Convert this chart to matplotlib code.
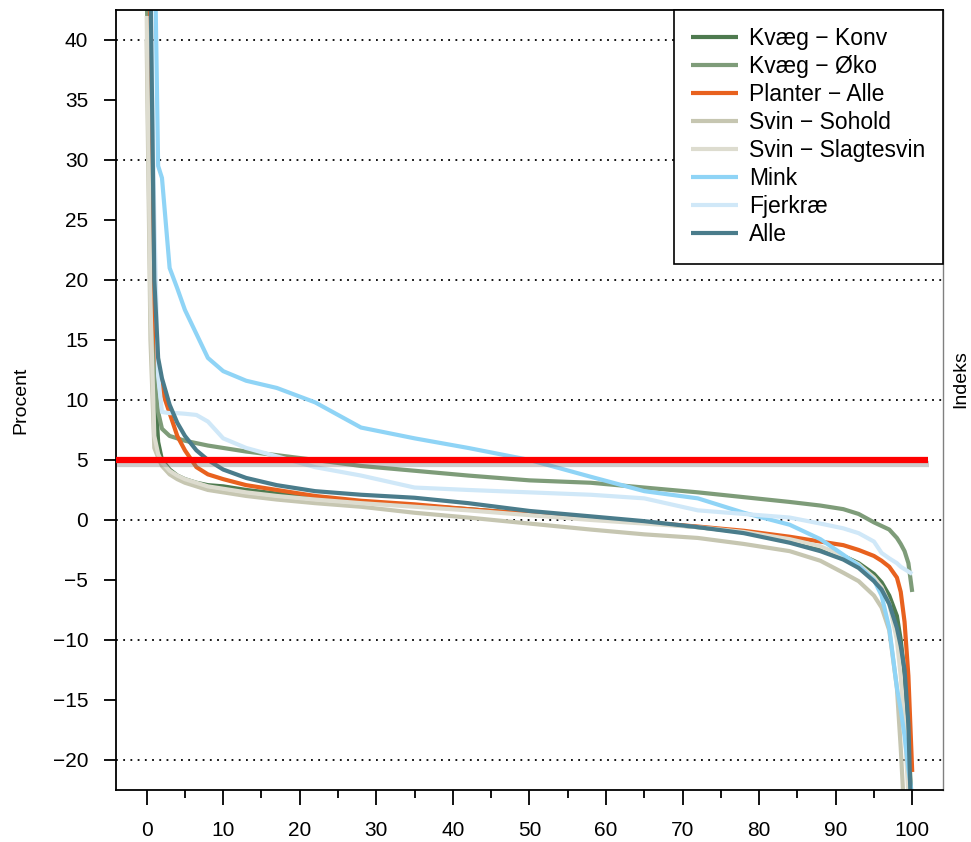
import matplotlib
matplotlib.use("Agg")
import matplotlib.pyplot as plt
import matplotlib.patheffects as pe
import numpy as np

plt.rcParams["font.family"] = ["Liberation Sans", "DejaVu Sans"]

# Percentile (x) and value (y, procent) for each group
pct = [0, 0.5, 1, 1.5, 2, 3, 4, 5, 6.5, 8, 10, 13, 17, 22, 28, 35, 42, 50,
       58, 65, 72, 78, 84, 88, 91, 93, 95, 96, 97, 98, 98.5, 99, 99.5, 100]

kvaeg_konv = [55, 30, 12, 6.5, 5.0, 4.2, 3.7, 3.4, 3.1, 2.9, 2.8, 2.5, 2.2, 1.8,
              1.5, 1.2, 0.9, 0.5, 0.1, -0.2, -0.6, -1.0, -1.7, -2.3, -3.0, -3.6,
              -4.5, -5.2, -6.3, -8.0, -10.0, -13.0, -18.0, -25.0]
kvaeg_oko = [45, 22, 12, 9.0, 7.6, 7.0, 6.8, 6.6, 6.4, 6.2, 6.0, 5.7, 5.4, 5.0,
             4.5, 4.1, 3.7, 3.3, 3.1, 2.7, 2.3, 1.9, 1.5, 1.2, 0.9, 0.5, -0.2,
             -0.5, -0.8, -1.5, -2.0, -2.6, -3.6, -6.0]
planter = [60, 40, 17, 12.5, 10.8, 8.9, 7.0, 5.8, 4.4, 3.8, 3.4, 2.9, 2.5, 2.0,
           1.6, 1.3, 0.9, 0.5, 0.1, -0.2, -0.55, -0.9, -1.4, -1.8, -2.1, -2.5,
           -3.0, -3.4, -3.9, -4.8, -6.0, -8.5, -13.0, -21.0]
svin_sohold = [40, 15, 6, 5.2, 4.5, 3.8, 3.4, 3.1, 2.8, 2.5, 2.3, 2.0, 1.7, 1.4,
               1.1, 0.6, 0.2, -0.3, -0.8, -1.2, -1.5, -2.0, -2.6, -3.4, -4.4,
               -5.1, -6.3, -7.3, -9.2, -14.0, -19.0, -25.0, -30.0, -40.0]
svin_slagt = [42, 18, 7, 5.5, 4.8, 4.1, 3.7, 3.4, 3.1, 2.8, 2.6, 2.3, 2.0, 1.7,
              1.4, 1.1, 0.8, 0.4, 0.0, -0.3, -0.6, -1.0, -1.6, -2.2, -3.0, -3.7,
              -4.8, -5.6, -7.0, -10.0, -13.0, -17.0, -23.0, -30.0]
mink = [80, 60, 50, 29.5, 28.5, 21.0, 19.3, 17.5, 15.5, 13.5, 12.4, 11.6, 11.0,
        9.8, 7.7, 6.8, 6.0, 5.0, 3.6, 2.4, 1.8, 0.6, -0.4, -1.6, -2.9, -3.8,
        -5.0, -6.3, -9.0, -14.0, -15.8, -18.0, -20.8, -23.0]
fjerkrae = [60, 45, 25, 12, 9.0, 8.9, 8.9, 8.85, 8.75, 8.2, 6.8, 6.0, 5.3, 4.4,
            3.7, 2.7, 2.5, 2.3, 2.1, 1.8, 0.8, 0.5, 0.2, -0.3, -0.7, -1.1, -1.8,
            -2.75, -3.2, -3.6, -3.9, -4.1, -4.3, -4.5]
alle = [60, 45, 20, 13.5, 11.8, 9.6, 8.1, 7.0, 5.8, 5.0, 4.2, 3.5, 2.9, 2.4,
        2.1, 1.85, 1.4, 0.75, 0.3, -0.1, -0.6, -1.1, -1.9, -2.6, -3.3, -4.0,
        -5.1, -5.8, -7.0, -9.0, -10.5, -12.5, -17.0, -28.0]

labels = ["Kvæg \u2212 Konv", "Kvæg \u2212 Øko", "Planter \u2212 Alle",
          "Svin \u2212 Sohold", "Svin \u2212 Slagtesvin", "Mink", "Fjerkræ", "Alle"]
series = [kvaeg_konv, kvaeg_oko, planter, svin_sohold, svin_slagt, mink, fjerkrae, alle]
colors = ["#4e7a4f", "#7e9c79", "#e8611e", "#c6c6b1", "#dddccf",
          "#8fd4f6", "#d0e8f8", "#4a7c8b"]

threshold = 5

fig = plt.figure(figsize=(9.71, 8.42), dpi=100)
ax = fig.add_axes([0.1195, 0.0618, 0.8515, 0.9264])

for y_ in [-20, -10, 0, 10, 20, 30, 40]:
    ax.axhline(y_, color="black", lw=1.3, ls=(0, (1, 3)), zorder=1)

for lab, vals, col in zip(labels, series, colors):
    ax.plot(pct, vals, color=col, lw=3, label=lab, solid_capstyle="butt", zorder=2)

ax.plot([-4, 102], [threshold, threshold], color="#ff0000", lw=4.5, zorder=3,
        solid_capstyle="butt",
        path_effects=[pe.SimpleLineShadow(offset=(1, -3), alpha=0.4, shadow_color="gray"),
                      pe.Normal()])

ax.set_xlim(-4, 104)
ax.set_ylim(-22.5, 42.5)
ax.set_xticks(np.arange(0, 101, 10))
ax.set_xticks(np.arange(5, 100, 10), minor=True)
ax.set_yticks(np.arange(-20, 41, 5))
ax.tick_params(axis="x", which="major", length=11, width=1.3, labelsize=15, pad=11)
ax.tick_params(axis="x", which="minor", length=6, width=1.3)
ax.tick_params(axis="y", length=9, width=1.3, labelsize=15, pad=11)

for s in ["left", "bottom", "top"]:
    ax.spines[s].set_linewidth(1.3)
    ax.spines[s].set_color("black")
ax.spines["right"].set_color("gray")
ax.spines["right"].set_linewidth(1)

ax.set_ylabel("Procent", fontsize=14, labelpad=17)
fig.text(0.989, 0.55, "Indeks", rotation=90, fontsize=14, ha="center", va="center")

leg = ax.legend(loc="upper right", bbox_to_anchor=(1, 1), borderaxespad=0,
                fancybox=False, edgecolor="black", framealpha=1, fontsize=16.5,
                handlelength=2.05, labelspacing=0.22, handletextpad=0.5,
                borderpad=0.75)
leg.get_frame().set_linewidth(1.2)

plt.savefig("out.png", dpi=100)
plt.close()
